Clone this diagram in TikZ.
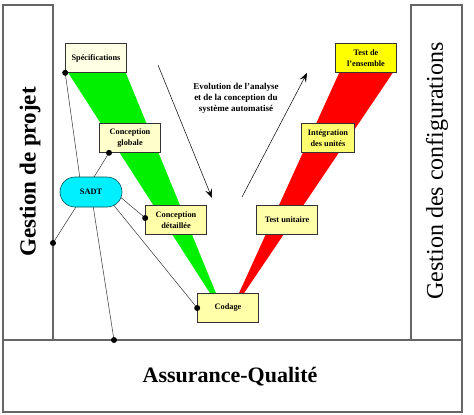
\documentclass[tikz,border=0pt]{standalone}
\usepackage{fontspec}
\setmainfont{Liberation Serif}
\usetikzlibrary{positioning,arrows.meta,backgrounds}

\definecolor{jauneA}{HTML}{FFFFE4}
\definecolor{jauneB}{HTML}{FFFFCC}
\definecolor{jauneC}{HTML}{FFFFAA}
\definecolor{jauneD}{HTML}{FFFF70}
\definecolor{jauneE}{HTML}{FFFF00}
\definecolor{cadre}{HTML}{666666}
\definecolor{vert}{HTML}{00F000}
\definecolor{rouge}{HTML}{FF0000}
\definecolor{cyanSADT}{HTML}{00F0FF}

\tikzset{
  etape/.style={draw=black!80, line width=0.6pt, minimum width=61pt, minimum height=29pt,
    align=center, inner sep=1pt, font=\fontsize{8.3}{11.5}\selectfont\bfseries},
  panneau/.style={font=\fontsize{24}{26}\selectfont, rotate=90},
  fleche/.style={-{Stealth[length=9pt,width=7pt,inset=3.5pt]}, line width=0.5pt},
  lien/.style={line width=0.5pt, black!80},
  point/.style={fill=black}
}

\begin{document}
\begin{tikzpicture}[x=1pt,y=-1pt]

\useasboundingbox (0,0) rectangle (474,415);

\draw[cadre, line width=1.2pt] (3,5) rectangle (53,340);
\draw[cadre, line width=1.2pt] (411,5) rectangle (462,340);
\draw[cadre, line width=1.2pt] (3,340) rectangle (462,412);

\node[panneau, font=\fontsize{23}{26}\selectfont\bfseries] (projet) at (30,172) {Gestion de projet};
\node[panneau] (config) at (437,171) {Gestion des configurations};
\node[font=\fontsize{22}{24}\selectfont\bfseries] (qualite) at (230,377) {Assurance-Qualité};

\node[etape, fill=jauneA] (spec)   at (96,58)  {Spécifications};
\node[etape, fill=jauneB] (glob)   at (130,138) {Conception\\globale};
\node[etape, fill=jauneC] (det)    at (176,220) {Conception\\détaillée};
\node[etape, fill=jauneC] (codage) at (228,308) {Codage};
\node[etape, fill=jauneC] (unit)   at (287,220) {Test unitaire};
\node[etape, fill=jauneD, minimum width=53pt] (integ) at (328,138) {Intégration\\des unités};
\node[etape, fill=jauneE] (ens)    at (366,58) {Test de\\l'ensemble};

\node[draw=teal!60!black, fill=cyanSADT, line width=0.6pt, rounded corners=15pt,
  minimum width=62pt, minimum height=30pt, font=\fontsize{8.3}{10}\selectfont\bfseries] (sadt) at (91,192) {SADT};

\node[font=\fontsize{9}{11}\selectfont\bfseries, align=center] (evol) at (236,98)
  {Evolution de l'analyse\\et de la conception du\\système automatisé};

\coordinate (hautD) at (158,65);
\coordinate (basD)  at (212,198);
\coordinate (basM)  at (242,197);
\coordinate (hautM) at (307,73);

\draw[fleche] (hautD) -- (basD);
\draw[fleche] (basM) -- (hautM);

\coordinate (p1) at (spec.south west);
\coordinate (p2) at ([xshift=-21pt]glob.south);
\coordinate (p3) at ([yshift=2pt]det.west);
\coordinate (p4) at (codage.west);
\coordinate (p5) at (53,243);
\coordinate (p6) at (114,340);

\begin{scope}[on background layer]
\fill[vert] ([xshift=3pt]spec.south west) -- ([xshift=-1pt]spec.south east)
  -- ([xshift=-12pt]codage.north) -- ([xshift=-18pt]codage.north) -- cycle;
\fill[rouge] ([xshift=4pt]ens.south west) -- ([xshift=-4pt]ens.south east)
  -- ([xshift=16pt]codage.north) -- ([xshift=11pt]codage.north) -- cycle;

\draw[lien] (p1) -- ([xshift=-11pt,yshift=-2pt]sadt.north);
\draw[lien] (p2) -- ([xshift=2pt,yshift=-2pt]sadt.north);
\draw[lien] (p3) -- ([xshift=-2pt,yshift=-5pt]sadt.east);
\draw[lien] (p4) -- ([xshift=22pt,yshift=3pt]sadt.south);
\draw[lien] (p6) -- ([xshift=2pt,yshift=2pt]sadt.south);
\draw[lien] (p5) -- ([xshift=-14pt,yshift=2pt]sadt.south);
\end{scope}

\foreach \p in {p1,p2,p3,p4,p5,p6}
  \fill[point] (\p) circle (3pt);

\end{tikzpicture}
\end{document}
